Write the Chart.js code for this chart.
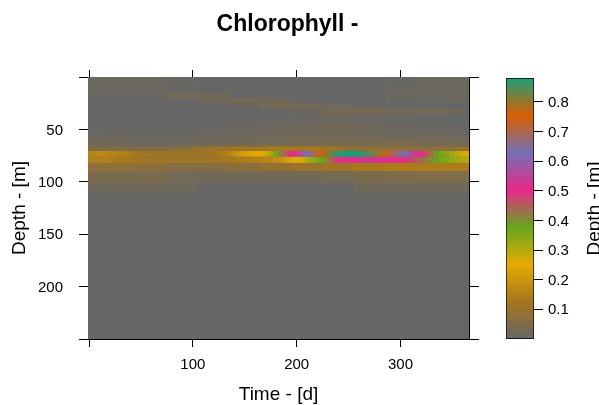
<!DOCTYPE html>
<html>
<head>
<meta charset="utf-8">
<title>Chlorophyll</title>
<script src="https://cdn.jsdelivr.net/npm/chart.js@4/dist/chart.umd.min.js"></script>
<style>
html, body { margin: 0; padding: 0; background: #fff; overflow: hidden; }
canvas { position: absolute; top: 0; }
#heat { left: 0; }
#bar { left: 490px; }
</style>
</head>
<body>
<canvas id="heat" width="599" height="405"></canvas>
<canvas id="bar" width="109" height="405"></canvas>
<script>
const xTicks = [0, 100, 200, 300];
const xLabels = [100, 200, 300];
const yTicks = [0, 50, 100, 150, 200, 250];
const yLabels = [50, 100, 150, 200];
const barTicks = [0.1, 0.2, 0.3, 0.4, 0.5, 0.6, 0.7, 0.8];
const palette = ['#666666', '#A6761D', '#E6AB02', '#66A61E', '#E7298A', '#7570B3', '#D95F02', '#1B9E77'];
const barMax = 0.88;

// days of the fine columns (thin band around 75 m) and of the coarse columns (everything else)
const fineDays = [0,5,10,15,20,25,30,35,40,45,50,55,60,65,70,75,80,85,90,95,100,105,110,115,120,125,130,135,140,145,150,155,160,165,170,175,180,185,190,195,200,205,210,215,220,225,230,235,240,245,250,255,260,265,270,275,280,285,290,295,300,305,310,315,320,325,330,335,340,345,350,355,360,365];
const coarseDays = [0, 30, 60, 90, 120, 150, 180, 210, 240, 270, 300, 330, 360];

// fine rows: [top depth, bottom depth]
const fineDepths = [[66, 70.5], [70.5, 76], [76, 82]];
const row66 = [.05,.05,.05,.05,.05,.05,.05,.05,.05,.05,.05,.05,.05,.05,.05,.06,.06,.06,.07,.07,.09,.10,.10,.10,.11,.11,.11,.12,.12,.12,.12,.12,.12,.12,.12,.13,.13,.13,.13,.13,.13,.13,.13,.13,.13,.12,.12,.11,.10,.09,.08,.08,.08,.08,.08,.08,.08,.08,.08,.08,.08,.08,.08,.08,.08,.08,.08,.08,.08,.08,.08,.08,.08,.08];
const row70 = [.16,.16,.17,.17,.16,.16,.15,.15,.14,.13,.12,.12,.12,.11,.11,.11,.11,.11,.11,.11,.10,.10,.11,.11,.12,.13,.14,.16,.18,.20,.22,.23,.24,.25,.27,.31,.36,.41,.46,.50,.52,.58,.62,.66,.73,.77,.80,.84,.87,.88,.88,.88,.88,.86,.84,.82,.80,.77,.72,.68,.65,.62,.57,.53,.50,.47,.43,.38,.36,.34,.32,.30,.27,.25];
const row76 = [.15,.15,.15,.15,.15,.14,.14,.13,.13,.12,.12,.11,.11,.11,.11,.11,.11,.11,.11,.11,.11,.11,.11,.12,.12,.12,.13,.13,.13,.14,.14,.15,.15,.15,.16,.16,.18,.19,.21,.23,.25,.27,.30,.33,.35,.38,.41,.46,.49,.50,.51,.51,.52,.53,.53,.52,.52,.51,.51,.50,.50,.49,.48,.46,.44,.42,.40,.38,.36,.35,.33,.32,.31,.30];
const fineRows = [row66, row70, row76];

// coarse rows: [top depth, bottom depth]
const coarseDepths = [[0,10],[10,15],[15,20],[20,25],[25,30],[30,35],[35,40],[40,45],[45,50],[50,55],[55,60],[60,66],[82,90],[90,101],[101,111],[111,250]];
const coarseRows = [
  [.012,.012,.012,.006,0,0,0,0,0,0,.006,.012,.012],
  [.012,.012,.012,.006,0,0,0,0,0,0,.012,.012,.012],
  [.006,.006,.006,.025,.025,0,0,0,0,0,.01,.012,.012],
  [0,0,0,0,.015,.03,.02,0,0,0,.006,.008,.008],
  [0,0,0,0,0,.01,.03,.03,.015,.005,.005,0,0],
  [0,0,0,0,0,0,0,.012,.035,.035,.03,.03,.02],
  [0,0,0,0,0,0,0,.006,.01,.01,.006,0,0],
  [0,0,0,0,0,.003,.006,.012,.015,.012,.006,.003,0],
  [.003,.003,0,0,.003,.008,.012,.02,.022,.018,.01,.006,.003],
  [.006,.006,.006,.006,.01,.014,.018,.022,.025,.02,.014,.012,.01],
  [.015,.012,.01,.008,.014,.018,.02,.025,.025,.025,.02,.02,.018],
  [.025,.02,.018,.015,.02,.025,.03,.035,.04,.04,.04,.035,.03],
  [.08,.08,.07,.06,.06,.07,.09,.10,.11,.13,.14,.14,.14],
  [.04,.04,.04,.03,.025,.025,.025,.025,.03,.04,.045,.05,.05],
  [.015,.015,.015,.015,0,0,0,0,0,.015,.015,.015,.015],
  [0,0,0,0,0,0,0,0,0,0,0,0,0]
];

function hexToRgb(h) {
  return [parseInt(h.slice(1, 3), 16), parseInt(h.slice(3, 5), 16), parseInt(h.slice(5, 7), 16)];
}

function colorFor(v) {
  const pos = Math.min(Math.max(v / barMax, 0), 1) * (palette.length - 1);
  const i = Math.min(Math.floor(pos), palette.length - 2);
  const a = hexToRgb(palette[i]);
  const b = hexToRgb(palette[i + 1]);
  const t = pos - i;
  return 'rgb(' + a.map((c, k) => Math.round(c + (b[k] - c) * t)).join(',') + ')';
}

function rowDataset(days, values, depth, widthFactor) {
  return {
    data: days.map(d => ({ x: d, y: depth })),
    backgroundColor: values.map(colorFor),
    borderWidth: 0,
    grouped: false,
    categoryPercentage: 1,
    barPercentage: widthFactor
  };
}

const datasets = [];
coarseRows.forEach((r, i) => datasets.push(rowDataset(coarseDays, r, coarseDepths[i], 6.15)));
fineRows.forEach((r, i) => datasets.push(rowDataset(fineDays, r, fineDepths[i], 1.15)));

const font = 'Liberation Sans, Arial, sans-serif';
const tickFont = { family: font, size: 15 };
const titleFont = { family: font, size: 19 };
Chart.defaults.color = '#000';

function useTicks(values) {
  return function (scale) {
    scale.ticks = values.map(v => ({ value: v }));
  };
}

const plotFill = {
  id: 'plotFill',
  beforeDatasetsDraw(chart) {
    const a = chart.chartArea;
    chart.ctx.fillStyle = palette[0];
    chart.ctx.fillRect(a.left, a.top, a.right - a.left, a.bottom - a.top);
  }
};

new Chart(document.getElementById('heat').getContext('2d'), {
  type: 'bar',
  data: { datasets: datasets },
  plugins: [plotFill],
  options: {
    responsive: false,
    animation: false,
    events: [],
    layout: { padding: { right: 24 } },
    plugins: {
      legend: { display: false },
      tooltip: { enabled: false },
      title: {
        display: true,
        text: 'Chlorophyll -',
        color: '#000',
        font: { family: font, size: 23, weight: 'bold', lineHeight: 1 },
        padding: { top: 13, bottom: 0 }
      }
    },
    scales: {
      x: {
        type: 'linear',
        offset: false,
        min: -1,
        max: 366,
        afterBuildTicks: useTicks(xTicks),
        afterFit(s) { s.height = 66; },
        grid: { offset: false, drawOnChartArea: false, color: '#000', tickLength: 8 },
        border: { color: '#000', width: 1 },
        ticks: {
          font: tickFont,
          padding: 9,
          autoSkip: false,
          maxRotation: 0,
          callback: v => xLabels.includes(v) ? String(v) : ''
        },
        title: { display: true, text: 'Time - [d]', font: titleFont, padding: { top: 0, bottom: -1 } }
      },
      xTop: {
        type: 'linear',
        position: 'top',
        offset: false,
        min: -1,
        max: 366,
        afterBuildTicks: useTicks(xTicks),
        afterFit(s) { s.height = 41; },
        grid: { offset: false, drawOnChartArea: false, color: '#000', tickLength: 7 },
        border: { color: '#000', width: 1 },
        ticks: { display: false }
      },
      y: {
        type: 'linear',
        reverse: true,
        min: 0,
        max: 250,
        afterBuildTicks: useTicks(yTicks),
        afterFit(s) { s.width = 88; },
        grid: { drawOnChartArea: false, color: '#000', tickLength: 9 },
        border: { color: '#000', width: 1 },
        ticks: {
          font: tickFont,
          padding: 16,
          labelOffset: 1,
          autoSkip: false,
          callback: v => yLabels.includes(v) ? String(v) : ''
        },
        title: { display: true, text: 'Depth - [m]', font: titleFont, padding: { top: 8, bottom: 0 } }
      },
      yRight: {
        type: 'linear',
        position: 'right',
        reverse: true,
        min: 0,
        max: 250,
        afterBuildTicks: useTicks(yTicks),
        afterFit(s) { s.width = 106; },
        grid: { drawOnChartArea: false, color: '#000', tickLength: 10 },
        border: { color: '#000', width: 1 },
        ticks: { display: false }
      }
    }
  }
});

// the colour key: one bar, filled with the palette along its scale
function rampFill(c) {
  const a = c.chart.chartArea;
  if (!a) return palette[0];
  const g = c.chart.ctx.createLinearGradient(0, a.bottom, 0, a.top);
  palette.forEach((col, i) => g.addColorStop(i / (palette.length - 1), col));
  return g;
}

// Chart.js turns right-hand axis titles the other way, so this one is written here
const rightTitle = {
  id: 'rightTitle',
  afterDraw(chart) {
    const a = chart.chartArea;
    const ctx = chart.ctx;
    ctx.save();
    ctx.translate(110, (a.top + a.bottom) / 2);
    ctx.rotate(-Math.PI / 2);
    ctx.textAlign = 'center';
    ctx.textBaseline = 'alphabetic';
    ctx.fillStyle = '#000';
    ctx.font = titleFont.size + 'px ' + font;
    ctx.fillText('Depth - [m]', 0, 0);
    ctx.restore();
  }
};

new Chart(document.getElementById('bar').getContext('2d'), {
  type: 'bar',
  data: {
    labels: ['key'],
    datasets: [{
      data: [[0, barMax]],
      backgroundColor: rampFill,
      borderColor: '#000',
      borderWidth: 1,
      borderSkipped: false,
      barPercentage: 1,
      categoryPercentage: 1
    }]
  },
  plugins: [rightTitle],
  options: {
    responsive: false,
    animation: false,
    events: [],
    layout: { padding: { left: 16, top: 78, bottom: 66 } },
    plugins: { legend: { display: false }, tooltip: { enabled: false } },
    scales: {
      x: { display: false },
      y: {
        position: 'right',
        min: 0,
        max: barMax,
        afterBuildTicks: useTicks(barTicks),
        afterFit(s) { s.width = 65; },
        grid: { drawOnChartArea: false, color: '#000', tickLength: 9 },
        border: { display: false },
        ticks: { font: tickFont, padding: 5, labelOffset: 1, autoSkip: false, callback: v => v.toFixed(1) }
      }
    }
  }
});
</script>
</body>
</html>
